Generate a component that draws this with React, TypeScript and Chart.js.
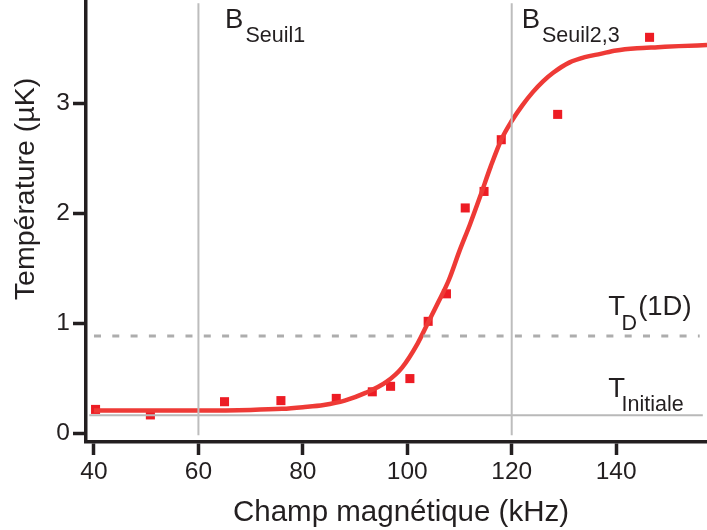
import React, { useEffect, useRef } from "react";
import { Chart, registerables } from "chart.js";

Chart.register(...registerables);

// Measured points
const fieldKHz = [40.3, 50.8, 65.0, 75.8, 86.4, 93.3, 96.8, 100.5, 104.0, 107.5, 111.1, 114.7, 118.0, 128.8, 146.4];
const temperatureUK = [0.22, 0.17, 0.29, 0.30, 0.32, 0.38, 0.43, 0.50, 1.02, 1.27, 2.05, 2.20, 2.67, 2.90, 3.60];

// Fitted curve
const fitFieldKHz = [40, 50, 60, 70, 76, 80, 84, 88, 92, 96, 99, 102, 104, 106, 108, 110, 112, 114, 116, 118, 120, 122, 124, 126, 128, 131, 134, 137, 140, 144, 148, 152, 157.4];
const fitTemperatureUK = [0.21, 0.21, 0.21, 0.215, 0.225, 0.24, 0.26, 0.30, 0.37, 0.47, 0.60, 0.82, 1.01, 1.20, 1.40, 1.66, 1.90, 2.16, 2.43, 2.67, 2.84, 2.98, 3.10, 3.20, 3.28, 3.37, 3.42, 3.45, 3.48, 3.50, 3.51, 3.52, 3.53];

// Reference lines
const thresholdFields = [60, 120]; // B_Seuil1, B_Seuil2,3
const thresholdSpan = [-0.015, 3.91];
const tInitiale = 0.166;
const tInitialeSpan = [39.1, 156.6];
const tD1D = 0.887;
const tD1DSpan = [40, 156];

// Axes
const xTicks = [40, 60, 80, 100, 120, 140];
const yTicks = [0, 1, 2, 3];
const xRange = [38.47, 157.4];
const yRange = [-0.076, 3.939];

const xTitle = "Champ magnétique (kHz)";
const yTitle = "Température (µK)";

const annotations = [
  { x: 65.1, y: 3.682, main: "B", sub: "Seuil1", suffix: "", subDx: 2, subDy: 13.4 },
  { x: 121.9, y: 3.682, main: "B", sub: "Seuil2,3", suffix: "", subDx: 2, subDy: 13.4 },
  { x: 138.5, y: 1.075, main: "T", sub: "D", suffix: "(1D)", subDx: -3.5, subDy: 15 },
  { x: 138.5, y: 0.333, main: "T", sub: "Initiale", suffix: "", subDx: -3.5, subDy: 14 },
];

const INK = "#231f20";
const FONT = "'Liberation Sans', Arial, Helvetica, sans-serif";

export default function App() {
  const ref = useRef<HTMLCanvasElement>(null);

  useEffect(() => {
    document.body.style.margin = "0";
    const canvas = ref.current!;

    const textPlugin = {
      id: "texts",
      afterDraw(chart: any) {
        const { ctx, scales } = chart;
        const xs = scales.x;
        const ys = scales.y;
        ctx.save();
        ctx.fillStyle = INK;
        ctx.textBaseline = "alphabetic";
        ctx.textAlign = "left";
        for (const a of annotations) {
          const px = xs.getPixelForValue(a.x);
          const py = ys.getPixelForValue(a.y);
          ctx.font = `27.5px ${FONT}`;
          ctx.fillText(a.main, px, py);
          const mw = ctx.measureText(a.main).width;
          ctx.font = `21.5px ${FONT}`;
          const sx = px + mw + a.subDx;
          ctx.fillText(a.sub, sx, py + a.subDy);
          const sw = ctx.measureText(a.sub).width;
          if (a.suffix) {
            ctx.font = `27.5px ${FONT}`;
            ctx.fillText(a.suffix, sx + sw + 1, py);
          }
        }
        // axis titles
        ctx.font = `29.5px ${FONT}`;
        ctx.textAlign = "center";
        ctx.fillText(xTitle, 401, 520.5);
        ctx.save();
        ctx.translate(34, 189);
        ctx.rotate(-Math.PI / 2);
        ctx.font = `28.5px ${FONT}`;
        ctx.fillText(yTitle, 0, 0);
        ctx.restore();
        ctx.restore();
      },
    };

    const grayLine = (pts: { x: number; y: number }[], color: string, width: number, dash: number[] = []) => ({
      data: pts,
      showLine: true,
      borderColor: color,
      borderWidth: width,
      borderDash: dash,
      pointRadius: 0,
      fill: false,
    });

    const chart = new Chart(canvas, {
      type: "scatter",
      data: {
        datasets: [
          ...thresholdFields.map((f) =>
            grayLine(thresholdSpan.map((v) => ({ x: f, y: v })), "#bdbdbd", 2)
          ),
          grayLine(tInitialeSpan.map((v) => ({ x: v, y: tInitiale })), "#b9b9b9", 2),
          grayLine(tD1DSpan.map((v) => ({ x: v, y: tD1D })), "#adadad", 3, [7, 11.3]),
          {
            data: fitFieldKHz.map((x, i) => ({ x, y: fitTemperatureUK[i] })),
            showLine: true,
            borderColor: "#ee3a36",
            borderWidth: 4.5,
            pointRadius: 0,
            cubicInterpolationMode: "monotone",
            fill: false,
          },
          {
            data: fieldKHz.map((x, i) => ({ x, y: temperatureUK[i] })),
            pointStyle: "rect",
            pointRadius: 6.4,
            pointBackgroundColor: "#ed1c24",
            pointBorderWidth: 0,
            backgroundColor: "#ed1c24",
            borderWidth: 0,
          },
        ] as any,
      },
      options: {
        responsive: false,
        devicePixelRatio: 1,
        animation: false,
        events: [],
        layout: { padding: 0, autoPadding: false },
        plugins: {
          legend: { display: false },
          tooltip: { enabled: false },
          title: { display: false },
        },
        scales: {
          x: {
            type: "linear",
            min: xRange[0],
            max: xRange[1],
            afterBuildTicks: (s: any) => {
              s.ticks = xTicks.map((v) => ({ value: v }));
            },
            afterFit: (s: any) => {
              s.height = 88;
              s.paddingLeft = 0;
              s.paddingRight = 0;
              s.paddingTop = 0;
              s.paddingBottom = 0;
            },
            grid: {
              display: true,
              drawOnChartArea: false,
              drawTicks: true,
              tickLength: 13,
              tickWidth: 3.5,
              tickColor: INK,
            },
            border: { display: true, width: 3.5, color: INK },
            ticks: {
              color: INK,
              font: { size: 24.5, family: FONT },
              padding: 3,
              maxRotation: 0,
              autoSkip: false,
            },
          },
          y: {
            type: "linear",
            min: yRange[0],
            max: yRange[1],
            afterBuildTicks: (s: any) => {
              s.ticks = yTicks.map((v) => ({ value: v }));
            },
            afterFit: (s: any) => {
              s.width = 86;
              s.paddingLeft = 0;
              s.paddingRight = 0;
              s.paddingTop = 0;
              s.paddingBottom = 0;
            },
            grid: {
              display: true,
              drawOnChartArea: false,
              drawTicks: true,
              tickLength: 13,
              tickWidth: 3.5,
              tickColor: INK,
            },
            border: { display: true, width: 3.5, color: INK },
            ticks: {
              color: INK,
              font: { size: 24.5, family: FONT },
              padding: 3,
              autoSkip: false,
            },
          },
        },
      },
      plugins: [textPlugin],
    } as any);

    return () => chart.destroy();
  }, []);

  return (
    <div style={{ position: "absolute", left: 0, top: 0, width: 707, height: 530, background: "#fff" }}>
      <canvas ref={ref} width={707} height={530} style={{ display: "block", width: 707, height: 530 }} />
    </div>
  );
}
